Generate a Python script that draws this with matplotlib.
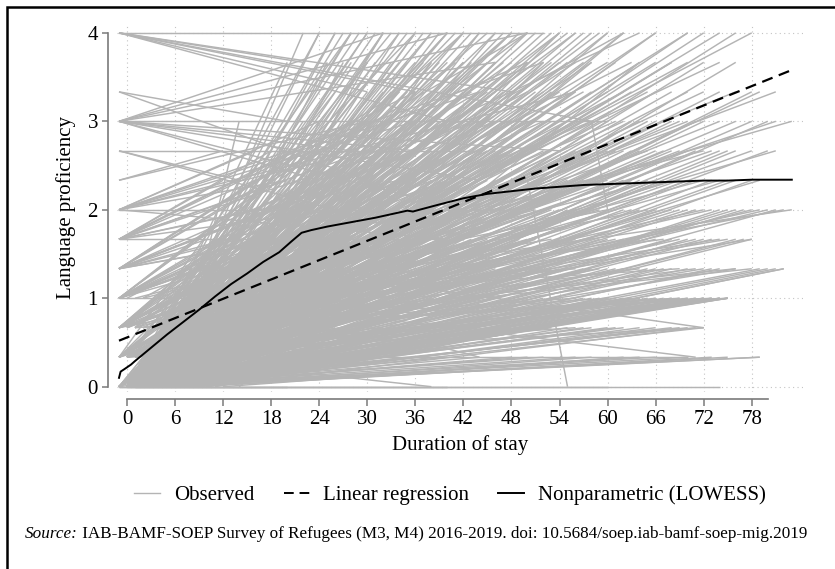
import matplotlib
matplotlib.use("Agg")
import matplotlib.pyplot as plt
from matplotlib.patches import Rectangle
from matplotlib.lines import Line2D

# observed spells: (first month, first score, last month, last score), score in thirds
from_left = [
    (-1, 12, 52, 12), (-1, 12, 40, 9), (-1, 12, 48, 10), (-1, 12, 30, 10), (-1, 12, 58, 9),
    (-1, 12, 22, 11), (-1, 12, 36, 10),
    (-1, 10, 30, 7), (-1, 10, 20, 9),
    (-1, 9, 60, 9), (-1, 9, 40, 12), (-1, 9, 32, 12), (-1, 9, 50, 12), (-1, 9, 46, 11),
    (-1, 9, 36, 8), (-1, 9, 44, 7), (-1, 9, 28, 8), (-1, 9, 54, 8), (-1, 9, 42, 6), (-1, 9, 24, 7),
    (-1, 8, 26, 6), (-1, 8, 44, 8), (-1, 8, 14, 7),
    (-1, 7, 30, 9), (-1, 7, 12, 8),
    (-1, 6, 48, 6), (-1, 6, 24, 9), (-1, 6, 44, 10), (-1, 6, 30, 8), (-1, 6, 52, 11),
    (-1, 6, 36, 9), (-1, 6, 20, 7), (-1, 6, 40, 5), (-1, 6, 16, 8), (-1, 6, 56, 10),
    (-1, 5, 20, 7), (-1, 5, 30, 8), (-1, 5, 44, 9), (-1, 5, 16, 6), (-1, 5, 36, 10),
    (-1, 5, 50, 11), (-1, 5, 26, 6), (-1, 5, 40, 5), (-1, 5, 22, 8),
    (-1, 5, 12, 7), (-1, 5, 18, 8), (-1, 5, 28, 9), (-1, 5, 34, 7),
    (-1, 4, 18, 6), (-1, 4, 24, 7), (-1, 4, 36, 8), (-1, 4, 30, 9), (-1, 4, 46, 9),
    (-1, 4, 14, 5), (-1, 4, 50, 12), (-1, 4, 40, 6), (-1, 4, 28, 7), (-1, 4, 20, 5),
    (-1, 4, 10, 5), (-1, 4, 16, 7), (-1, 4, 22, 8), (-1, 4, 26, 6), (-1, 4, 34, 10),
    (-1, 3, 16, 5), (-1, 3, 22, 6), (-1, 3, 34, 8), (-1, 3, 12, 4), (-1, 3, 28, 9),
    (-1, 3, 40, 7), (-1, 3, 44, 10), (-1, 3, 20, 5), (-1, 3, 30, 6), (-1, 3, 48, 8),
    (-1, 3, 10, 3), (-1, 3, 26, 7), (-1, 3, 8, 4), (-1, 3, 14, 6), (-1, 3, 18, 7),
    (-1, 3, 24, 8), (-1, 3, 32, 7), (-1, 3, 36, 9),
    (-1, 2, 14, 4), (-1, 2, 20, 5), (-1, 2, 26, 6), (-1, 2, 10, 3), (-1, 2, 34, 7),
    (-1, 2, 42, 9), (-1, 2, 30, 8), (-1, 2, 18, 3), (-1, 2, 50, 6), (-1, 2, 24, 4),
    (-1, 2, 8, 3), (-1, 2, 12, 5), (-1, 2, 16, 6), (-1, 2, 22, 7), (-1, 2, 28, 6),
    (-1, 2, 32, 9), (-1, 2, 38, 8),
    (-1, 1, 12, 3), (-1, 1, 18, 4), (-1, 1, 24, 5), (-1, 1, 30, 6), (-1, 1, 8, 2),
    (-1, 1, 40, 7), (-1, 1, 46, 9), (-1, 1, 36, 4), (-1, 1, 20, 3), (-1, 1, 10, 4),
    (-1, 1, 14, 4), (-1, 1, 16, 5), (-1, 1, 22, 6), (-1, 1, 26, 7), (-1, 1, 28, 5),
    (-1, 1, 32, 8),
    (-1, 0, 6, 2), (-1, 0, 10, 3), (-1, 0, 12, 2), (-1, 0, 16, 4), (-1, 0, 18, 5),
    (-1, 0, 8, 3), (-1, 0, 14, 5), (-1, 0, 20, 6), (-1, 0, 24, 7), (-1, 0, 22, 5),
]

steep = [
    (2, 0, 24, 12), (4, 1, 26, 12), (6, 2, 28, 12), (3, 0, 22, 12), (8, 3, 30, 12),
    (5, 0, 32, 12), (10, 2, 34, 12), (1, 0, 20, 11), (6, 1, 25, 11), (9, 2, 27, 11),
    (4, 0, 36, 12), (12, 3, 38, 12), (7, 0, 30, 11), (3, 1, 40, 12), (10, 0, 44, 12),
    (14, 2, 46, 12), (8, 1, 42, 11), (2, 0, 34, 10), (6, 0, 28, 10), (11, 1, 24, 9),
    (6, 0, 14, 9), (15, 3, 50, 12), (5, 2, 48, 12), (9, 0, 38, 11), (13, 1, 54, 12),
    (4, 0, 46, 11), (16, 4, 56, 12), (7, 1, 60, 12), (12, 0, 52, 11), (3, 0, 44, 10),
    (18, 2, 62, 12), (8, 0, 58, 11), (20, 3, 66, 12), (10, 1, 70, 12), (14, 0, 64, 11),
    (6, 0, 76, 12), (2, 0, 68, 11), (22, 4, 78, 12),
]

# spells ending on the top scores
end_high = [
    (0, 0, 24, 12), (-1, 1, 28, 12), (1, 0, 32, 12), (0, 2, 36, 12), (2, 1, 40, 12),
    (-1, 0, 42, 12), (3, 0, 48, 12), (1, 2, 50, 12), (0, 1, 54, 12), (4, 0, 58, 12),
    (2, 3, 62, 12), (0, 0, 66, 12), (5, 1, 70, 12), (1, 0, 74, 12),
    (0, 0, 26, 12), (2, 1, 27, 12), (4, 2, 29, 12), (1, 0, 31, 12), (6, 3, 33, 12),
    (3, 1, 35, 12), (8, 2, 37, 12), (0, 0, 38, 12), (5, 0, 39, 12), (9, 3, 41, 12),
    (2, 0, 43, 12), (7, 1, 44, 12), (11, 4, 45, 12), (4, 0, 47, 12), (10, 2, 49, 12),
    (1, 0, 51, 12), (6, 1, 53, 12), (12, 3, 55, 12), (3, 0, 56, 12), (8, 1, 57, 12),
    (0, 0, 46, 12), (5, 2, 34, 12), (13, 5, 42, 12), (2, 1, 30, 12), (9, 0, 60, 12),
    (16, 6, 64, 12), (4, 0, 72, 12),
    (0, 0, 28, 12), (3, 0, 32, 12), (6, 1, 36, 12), (9, 2, 40, 12), (4, 0, 42, 12),
    (12, 3, 48, 12), (7, 1, 52, 12), (2, 0, 54, 12), (10, 2, 59, 12), (5, 0, 62, 12),
    (0, 0, 30, 11), (2, 1, 36, 11), (-1, 0, 42, 11), (1, 2, 48, 11), (3, 0, 52, 11),
    (0, 1, 56, 11), (4, 2, 60, 11), (1, 0, 64, 11), (2, 1, 70, 11), (6, 0, 72, 11),
    (0, 0, 32, 11), (3, 1, 34, 11), (6, 2, 37, 11), (1, 0, 39, 11), (8, 3, 41, 11),
    (4, 1, 43, 11), (0, 0, 45, 11), (7, 2, 47, 11), (2, 0, 49, 11), (10, 3, 51, 11),
    (5, 1, 53, 11), (0, 0, 55, 11), (9, 2, 58, 11), (3, 0, 61, 11), (12, 4, 63, 11),
    (6, 1, 66, 11), (1, 0, 68, 11), (4, 2, 74, 11), (8, 0, 76, 11), (2, 1, 40, 11),
    (0, 0, 28, 11), (3, 0, 31, 11), (6, 1, 33, 11), (9, 2, 35, 11), (4, 0, 38, 11),
    (1, 0, 44, 11), (7, 1, 46, 11), (5, 0, 50, 11), (11, 2, 54, 11), (2, 0, 57, 11),
    (0, 1, 26, 10), (1, 0, 32, 10), (-1, 2, 38, 10), (2, 0, 44, 10), (0, 3, 50, 10),
    (3, 1, 54, 10), (1, 0, 58, 10), (5, 2, 62, 10), (0, 0, 66, 10), (2, 1, 72, 10),
    (4, 0, 78, 10), (3, 2, 81, 10),
    (0, 0, 35, 10), (3, 1, 37, 10), (6, 2, 40, 10), (1, 0, 42, 10), (8, 3, 45, 10),
    (4, 1, 47, 10), (0, 0, 49, 10), (7, 2, 52, 10), (2, 0, 55, 10), (10, 3, 57, 10),
    (5, 1, 60, 10), (0, 0, 63, 10), (9, 2, 65, 10), (3, 0, 68, 10), (6, 1, 70, 10),
    (1, 0, 74, 10), (4, 2, 76, 10), (8, 1, 79, 10), (2, 0, 30, 10), (5, 3, 43, 10),
    (0, 0, 33, 10), (3, 0, 36, 10), (6, 1, 39, 10), (1, 0, 41, 10), (8, 2, 46, 10),
    (4, 0, 48, 10), (2, 0, 51, 10), (9, 1, 53, 10), (5, 0, 56, 10),
]

# spells ending in the middle scores
end_mid = [
    (0, 0, 22, 9), (1, 2, 28, 9), (-1, 1, 34, 9), (2, 0, 40, 9), (0, 2, 46, 9),
    (3, 1, 50, 9), (1, 0, 54, 9), (4, 3, 58, 9), (0, 1, 62, 9), (2, 0, 66, 9),
    (5, 2, 70, 9), (1, 1, 74, 9), (3, 0, 80, 9), (6, 3, 83, 9),
    (0, 0, 38, 9), (3, 1, 41, 9), (6, 2, 43, 9), (1, 0, 45, 9), (8, 3, 48, 9),
    (4, 1, 51, 9), (0, 0, 53, 9), (7, 2, 56, 9), (2, 0, 59, 9), (10, 3, 61, 9),
    (5, 1, 64, 9), (0, 0, 67, 9), (9, 2, 69, 9), (3, 0, 72, 9), (6, 1, 76, 9),
    (1, 0, 78, 9), (4, 2, 81, 9), (2, 0, 36, 9), (5, 1, 31, 9), (11, 4, 52, 9),
    (0, 1, 26, 9), (7, 0, 60, 9),
    (0, 0, 32, 9), (2, 0, 35, 9), (4, 1, 39, 9), (1, 0, 42, 9), (6, 0, 44, 9),
    (3, 1, 47, 9), (8, 0, 49, 9), (0, 0, 55, 9), (5, 1, 57, 9), (10, 0, 63, 9),
    (2, 0, 65, 9), (7, 1, 68, 9), (4, 0, 71, 9),
    (0, 1, 20, 8), (1, 0, 26, 8), (-1, 2, 32, 8), (2, 1, 38, 8), (0, 0, 42, 8),
    (3, 2, 48, 8), (1, 1, 52, 8), (4, 0, 56, 8), (0, 2, 60, 8), (2, 0, 64, 8),
    (5, 1, 68, 8), (1, 3, 72, 8), (3, 0, 76, 8), (6, 2, 81, 8),
    (0, 0, 40, 8), (3, 1, 43, 8), (6, 2, 46, 8), (1, 0, 49, 8), (8, 3, 51, 8),
    (4, 1, 54, 8), (0, 0, 57, 8), (7, 2, 59, 8), (2, 0, 62, 8), (10, 3, 65, 8),
    (5, 1, 67, 8), (0, 0, 70, 8), (9, 2, 73, 8), (3, 0, 75, 8), (6, 1, 78, 8),
    (1, 0, 80, 8), (2, 1, 34, 8), (4, 0, 29, 8), (0, 2, 45, 8), (7, 0, 63, 8),
    (0, 0, 30, 8), (2, 0, 36, 8), (4, 1, 39, 8), (1, 0, 41, 8), (6, 0, 44, 8),
    (3, 1, 47, 8), (8, 0, 50, 8), (0, 0, 53, 8), (5, 1, 55, 8), (10, 0, 58, 8),
    (2, 0, 61, 8), (7, 1, 66, 8), (12, 2, 69, 8), (4, 0, 71, 8), (9, 1, 74, 8),
    (0, 0, 18, 7), (1, 1, 24, 7), (-1, 0, 30, 7), (2, 2, 36, 7), (0, 1, 40, 7),
    (3, 0, 44, 7), (1, 2, 48, 7), (4, 1, 52, 7), (0, 0, 56, 7), (2, 3, 60, 7),
    (5, 0, 64, 7), (1, 1, 68, 7), (3, 2, 72, 7), (6, 0, 78, 7),
    (0, 0, 42, 7), (3, 1, 45, 7), (6, 2, 47, 7), (1, 0, 50, 7), (8, 3, 53, 7),
    (4, 1, 55, 7), (0, 0, 58, 7), (7, 2, 61, 7), (2, 0, 63, 7), (10, 3, 66, 7),
    (5, 1, 69, 7), (0, 0, 71, 7), (9, 2, 74, 7), (3, 0, 76, 7), (6, 1, 79, 7),
    (1, 0, 33, 7), (4, 1, 27, 7), (2, 0, 38, 7), (0, 1, 21, 7), (5, 0, 66, 7),
    (0, 0, 27, 7), (2, 0, 32, 7), (4, 1, 35, 7), (1, 0, 37, 7), (6, 0, 40, 7),
    (3, 1, 43, 7), (8, 0, 46, 7), (0, 0, 49, 7), (5, 1, 51, 7), (10, 0, 54, 7),
    (2, 0, 57, 7), (7, 1, 59, 7), (12, 2, 62, 7), (4, 0, 65, 7), (9, 1, 67, 7),
    (1, 0, 70, 7), (6, 0, 73, 7), (3, 0, 75, 7),
    (0, 0, 16, 6), (1, 1, 22, 6), (-1, 0, 28, 6), (2, 0, 32, 6), (0, 2, 36, 6),
    (3, 1, 40, 6), (1, 0, 44, 6), (4, 2, 48, 6), (0, 1, 52, 6), (2, 0, 56, 6),
    (5, 3, 60, 6), (1, 0, 64, 6), (3, 1, 68, 6), (6, 2, 72, 6), (2, 0, 76, 6),
    (4, 1, 80, 6), (7, 3, 83, 6),
    (0, 0, 41, 6), (3, 1, 43, 6), (6, 2, 46, 6), (1, 0, 49, 6), (8, 3, 51, 6),
    (4, 1, 54, 6), (0, 0, 57, 6), (7, 2, 59, 6), (2, 0, 62, 6), (10, 3, 65, 6),
    (5, 1, 67, 6), (0, 0, 70, 6), (9, 2, 73, 6), (3, 0, 75, 6), (6, 1, 78, 6),
    (1, 0, 81, 6), (4, 2, 34, 6), (0, 0, 25, 6), (2, 1, 30, 6), (7, 0, 38, 6),
    (0, 0, 19, 6), (5, 2, 82, 6),
    (0, 0, 28, 6), (2, 0, 33, 6), (4, 1, 36, 6), (1, 0, 39, 6), (6, 0, 42, 6),
    (3, 1, 45, 6), (8, 0, 47, 6), (0, 0, 50, 6), (5, 1, 53, 6), (10, 0, 55, 6),
    (2, 0, 58, 6), (7, 1, 61, 6), (12, 2, 63, 6), (4, 0, 66, 6), (9, 1, 69, 6),
    (1, 0, 71, 6), (6, 0, 74, 6), (3, 0, 77, 6), (11, 2, 79, 6),
]

# spells ending in the low scores
end_low = [
    (0, 0, 14, 5), (1, 1, 20, 5), (-1, 0, 26, 5), (2, 0, 30, 5), (0, 1, 34, 5),
    (3, 0, 38, 5), (1, 2, 42, 5), (4, 0, 46, 5), (0, 1, 50, 5), (2, 0, 54, 5),
    (5, 2, 58, 5), (1, 0, 62, 5), (3, 1, 66, 5), (6, 0, 70, 5), (2, 2, 74, 5),
    (4, 0, 78, 5),
    (0, 0, 43, 5), (3, 1, 45, 5), (6, 2, 48, 5), (1, 0, 51, 5), (8, 3, 53, 5),
    (4, 1, 56, 5), (0, 0, 59, 5), (7, 2, 61, 5), (2, 0, 64, 5), (10, 3, 67, 5),
    (5, 1, 69, 5), (0, 0, 72, 5), (9, 2, 75, 5), (3, 0, 77, 5), (1, 0, 36, 5),
    (4, 1, 31, 5), (0, 0, 24, 5), (2, 1, 40, 5), (6, 0, 17, 5), (8, 2, 78, 5),
    (0, 0, 30, 5), (2, 0, 35, 5), (4, 1, 39, 5), (1, 0, 41, 5), (6, 0, 44, 5),
    (3, 1, 47, 5), (8, 0, 49, 5), (0, 0, 52, 5), (5, 1, 55, 5), (10, 0, 57, 5),
    (2, 0, 60, 5), (7, 1, 63, 5), (12, 2, 65, 5), (4, 0, 68, 5), (9, 1, 71, 5),
    (1, 0, 73, 5), (6, 0, 76, 5),
    (0, 0, 12, 4), (1, 0, 18, 4), (-1, 0, 22, 4), (2, 1, 26, 4), (0, 0, 30, 4),
    (3, 0, 34, 4), (1, 1, 38, 4), (4, 0, 42, 4), (0, 0, 46, 4), (2, 2, 50, 4),
    (5, 0, 54, 4), (1, 0, 58, 4), (3, 1, 62, 4), (6, 0, 66, 4), (2, 0, 70, 4),
    (4, 2, 76, 4), (8, 0, 82, 4),
    (0, 0, 45, 4), (3, 1, 48, 4), (6, 2, 51, 4), (1, 0, 53, 4), (8, 3, 56, 4),
    (4, 1, 59, 4), (0, 0, 61, 4), (7, 2, 64, 4), (2, 0, 67, 4), (10, 3, 69, 4),
    (5, 1, 72, 4), (0, 0, 74, 4), (9, 2, 78, 4), (3, 0, 80, 4), (1, 0, 28, 4),
    (4, 0, 33, 4), (0, 1, 39, 4), (2, 0, 24, 4), (6, 1, 15, 4), (8, 0, 82, 4),
    (0, 0, 36, 4), (2, 0, 40, 4), (4, 1, 44, 4), (1, 0, 47, 4), (6, 0, 50, 4),
    (3, 0, 52, 4), (8, 1, 55, 4), (0, 0, 57, 4), (5, 0, 60, 4), (10, 1, 63, 4),
    (2, 0, 65, 4), (7, 0, 68, 4), (12, 2, 71, 4), (4, 0, 73, 4), (9, 1, 76, 4),
    (1, 0, 79, 4), (6, 0, 81, 4),
    (0, 0, 10, 3), (1, 0, 16, 3), (-1, 0, 20, 3), (2, 0, 24, 3), (0, 1, 28, 3),
    (3, 0, 32, 3), (1, 0, 36, 3), (4, 1, 40, 3), (0, 0, 44, 3), (2, 0, 48, 3),
    (5, 0, 52, 3), (1, 2, 56, 3), (3, 0, 60, 3), (6, 1, 64, 3), (2, 0, 68, 3),
    (4, 0, 72, 3), (0, 0, 74, 3), (7, 2, 75, 3), (3, 1, 75, 3),
    (0, 0, 46, 3), (3, 1, 50, 3), (6, 0, 54, 3), (1, 0, 57, 3), (8, 2, 60, 3),
    (4, 0, 62, 3), (0, 0, 64, 3), (7, 1, 66, 3), (2, 0, 68, 3), (10, 2, 69, 3),
    (5, 0, 70, 3), (0, 0, 71, 3), (9, 1, 72, 3), (3, 0, 73, 3), (6, 0, 74, 3),
    (1, 1, 75, 3), (4, 0, 75, 3), (0, 0, 38, 3), (2, 0, 30, 3), (5, 1, 26, 3),
    (1, 0, 22, 3), (8, 0, 74, 3), (12, 2, 73, 3),
    (0, 0, 58, 3), (2, 0, 61, 3), (4, 1, 63, 3), (1, 0, 65, 3), (6, 0, 67, 3),
    (3, 0, 69, 3), (0, 1, 70, 3), (5, 0, 71, 3), (8, 0, 72, 3), (2, 0, 73, 3),
    (10, 1, 74, 3), (7, 0, 75, 3), (0, 0, 75, 3), (11, 0, 72, 3), (4, 0, 66, 3),
    (9, 0, 59, 3), (12, 1, 64, 3), (1, 0, 50, 3), (3, 0, 42, 3), (6, 0, 34, 3),
    (0, 0, 8, 2), (1, 0, 14, 2), (-1, 0, 20, 2), (2, 0, 26, 2), (0, 0, 32, 2),
    (3, 1, 38, 2), (1, 0, 44, 2), (4, 0, 50, 2), (0, 1, 56, 2), (2, 0, 62, 2),
    (5, 0, 72, 2),
    (0, 0, 40, 2), (3, 0, 46, 2), (6, 1, 52, 2), (1, 0, 58, 2), (8, 0, 64, 2),
    (4, 0, 68, 2), (0, 0, 70, 2), (2, 1, 72, 2), (5, 0, 60, 2), (1, 0, 35, 2),
    (0, 0, 29, 2), (3, 1, 24, 2), (7, 0, 50, 2),
    (0, 0, 45, 2), (2, 0, 53, 2), (5, 0, 57, 2), (1, 0, 61, 2), (7, 0, 66, 2),
    (3, 0, 69, 2), (10, 0, 71, 2), (0, 0, 48, 2), (4, 0, 38, 2), (9, 0, 55, 2),
    (0, 0, 6, 1), (1, 0, 16, 1), (-1, 0, 28, 1), (2, 0, 40, 1), (0, 0, 52, 1),
    (3, 0, 70, 1), (1, 0, 79, 1),
    (0, 0, 36, 1), (3, 0, 48, 1), (6, 0, 58, 1), (1, 0, 64, 1), (8, 0, 73, 1),
    (4, 0, 79, 1), (10, 1, 70, 1), (2, 0, 44, 1),
    (0, 0, 30, 1), (2, 0, 56, 1), (5, 0, 66, 1), (8, 0, 75, 1), (12, 0, 62, 1),
    (1, 0, 50, 1),
    (-1, 0, 20, 0), (0, 0, 40, 0), (1, 0, 60, 0), (-1, 0, 74, 0),
]

odd = [
    (50, 7, 55, 0), (58, 9, 60, 6), (10, 3, 71, 1), (4, 1, 38, 0), (30, 2, 44, 1),
    (20, 4, 72, 2),
]

# fitted lines
linreg_x = [-1.0, 83.0]
linreg_y = [0.52, 3.58]

lowess_x = [-1.0, -0.8, -0.3, 0.5, 1, 3, 5, 7, 9, 11, 13, 15, 17, 19, 20.5, 21.8, 23, 25,
            28, 31, 34, 35, 35.7, 36.5, 39, 42, 45, 48, 51, 54, 57, 60, 63, 66, 69, 72,
            75, 78, 83]
lowess_y = [0.10, 0.17, 0.20, 0.25, 0.29, 0.44, 0.59, 0.73, 0.87, 1.02, 1.16, 1.28, 1.41,
            1.52, 1.64, 1.74, 1.77, 1.81, 1.86, 1.91, 1.97, 1.99, 1.98, 2.00, 2.06, 2.13,
            2.18, 2.21, 2.24, 2.26, 2.28, 2.29, 2.30, 2.31, 2.32, 2.33, 2.33, 2.34, 2.34]

x_ticks = list(range(0, 79, 6))
y_ticks = [0, 1, 2, 3, 4]

plt.rcParams['font.family'] = ['Liberation Serif', 'DejaVu Serif']

fig = plt.figure(figsize=(8.35, 5.69), dpi=100)
ax = fig.add_axes([0.1406, 0.3111, 0.8211, 0.6467])

gray = '#b4b4b4'
for seg in from_left + steep + end_high + end_mid + end_low + odd:
    x0, l0, x1, l1 = seg
    ax.plot([x0, x1], [l0 / 3, l1 / 3], color=gray, lw=1.05, solid_capstyle='butt', zorder=2)

ax.plot(linreg_x, linreg_y, color='black', lw=1.6, dashes=(5, 3), zorder=4)
ax.plot(lowess_x, lowess_y, color='black', lw=1.4, zorder=5)

ax.set_xlim(-1.2, 84.4)
ax.set_ylim(-0.06, 4.1)
ax.set_xticks(x_ticks)
ax.set_yticks(y_ticks)
ax.grid(True, color='#c4c4c4', linestyle=(0, (1, 3)), lw=0.8, zorder=0)

for s in ['top', 'right']:
    ax.spines[s].set_visible(False)
ax.spines['left'].set_position(('outward', 7))
ax.spines['bottom'].set_position(('outward', 5))
ax.spines['left'].set_bounds(0, 4)
ax.spines['bottom'].set_bounds(0, 80)
for s in ['left', 'bottom']:
    ax.spines[s].set_color('#7a7a7a')
    ax.spines[s].set_linewidth(1.2)
ax.tick_params(axis='both', colors='#7a7a7a', labelcolor='black', labelsize=15, width=1.1)
ax.tick_params(axis='y', length=4, pad=3)
ax.tick_params(axis='x', length=5, pad=3)

ax.set_xlabel('Duration of stay', fontsize=15, labelpad=4)
ax.set_ylabel('Language proficiency', fontsize=15, labelpad=8)

handles = [
    Line2D([], [], color=gray, lw=1.0),
    Line2D([], [], color='black', lw=1.4, dashes=(5, 3)),
    Line2D([], [], color='black', lw=1.4),
]
fig.legend(handles, ['Observed', 'Linear regression', 'Nonparametric (LOWESS)'],
           loc='center', bbox_to_anchor=(0.539, 0.13), ncol=3, frameon=False,
           fontsize=15, handlelength=1.25, handletextpad=0.65, columnspacing=1.4)

source_rest = ' IAB-BAMF-SOEP Survey of Refugees (M3, M4) 2016-2019. doi: 10.5684/soep.iab-bamf-soep-mig.2019'
t1 = fig.text(25 / 835, 31 / 569, 'Source:', fontsize=12.3, style='italic', va='baseline')
ax.annotate(source_rest, xy=(1, 0), xycoords=t1, ha='left', va='bottom', fontsize=12.3,
            annotation_clip=False)

fig.add_artist(Rectangle((7 / 835, -0.02), 1.0, 1 - 7 / 569 + 0.02, transform=fig.transFigure,
                         fill=False, ec='black', lw=1.8))

fig.savefig('out.png', dpi=100)
